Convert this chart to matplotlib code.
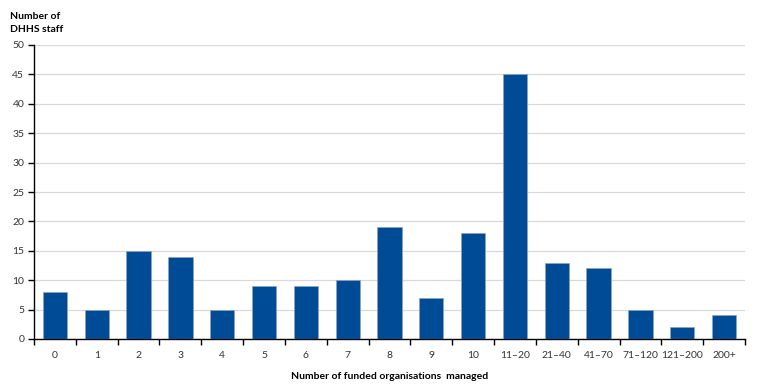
import matplotlib
matplotlib.use("Agg")
import matplotlib.pyplot as plt
import numpy as np

categories = ["0", "1", "2", "3", "4", "5", "6", "7", "8", "9", "10",
              "11–20", "21–40", "41–70", "71–120", "121–200", "200+"]
values = [8, 5, 15, 14, 5, 9, 9, 10, 19, 7, 18, 45, 13, 12, 5, 2, 4]
yticks = [0, 5, 10, 15, 20, 25, 30, 35, 40, 45, 50]

plt.rcParams['font.family'] = ['Lato', 'DejaVu Sans']

fig = plt.figure(figsize=(7.65, 3.88), dpi=100)
ax = fig.add_axes([34/765, 1-339/388, (745-34)/765, (339-45)/388])

x = np.arange(len(categories))
ax.bar(x, values, width=0.58, color="#004B96", edgecolor="#8FA3C4", linewidth=0.5, zorder=3)

ax.set_xlim(-0.5, len(categories)-0.5)
ax.set_ylim(0, 50)
ax.set_yticks(yticks)
ax.set_yticklabels([str(v) for v in yticks], fontsize=7.5, color="#333333")
ax.yaxis.grid(True, color="#D9D9D9", linewidth=0.9, zorder=0)
ax.set_axisbelow(True)

ax.set_xticks(x)
ax.set_xticklabels(categories, fontsize=7.5, color="#333333")
ax.tick_params(axis='x', length=0, pad=9)
ax.set_xticks(np.arange(-0.5, len(categories)), minor=True)
ax.tick_params(axis='x', which='minor', length=4, width=1, direction='out')
ax.tick_params(axis='y', length=4, width=1, direction='out', pad=3)

for s in ["top", "right"]:
    ax.spines[s].set_visible(False)
ax.spines["left"].set_linewidth(1)
ax.spines["bottom"].set_linewidth(1)

ax.set_xlabel("Number of funded organisations  managed", fontsize=7.5, fontweight='bold', labelpad=8)
fig.text(10/765, 1-12/388, "Number of\nDHHS staff", fontsize=7.5, fontweight='bold',
         va='top', ha='left', linespacing=1.6)

fig.savefig("out.png", dpi=100)
